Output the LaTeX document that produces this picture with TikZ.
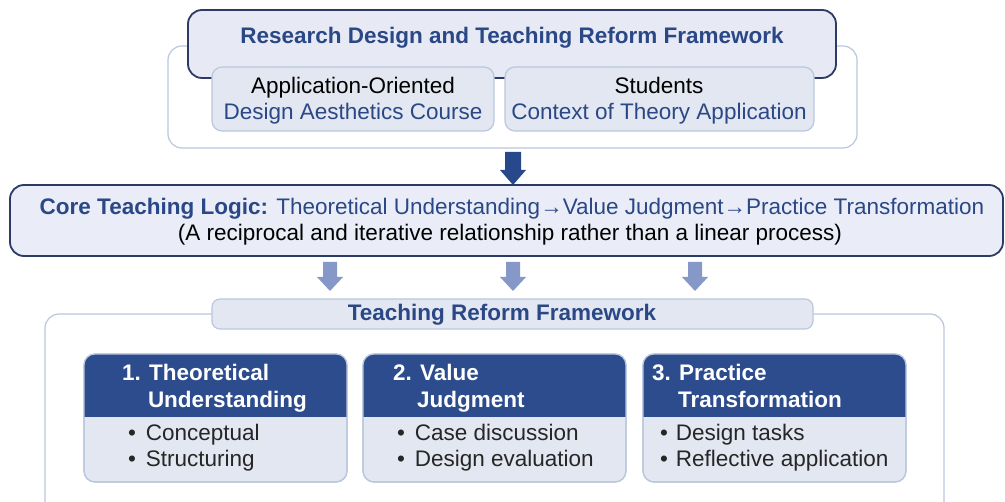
\documentclass[tikz,border=0pt]{standalone}
\usepackage{fontspec}
\setmainfont{Liberation Sans}
\usetikzlibrary{calc}
\definecolor{navy}{RGB}{42,72,134}
\definecolor{darkline}{RGB}{44,58,102}
\definecolor{hdrfill}{RGB}{44,76,142}
\definecolor{lightline}{RGB}{186,199,221}
\definecolor{bodyfill}{RGB}{227,231,241}
\definecolor{titlefill}{RGB}{231,234,245}
\definecolor{corefill}{RGB}{234,237,247}
\definecolor{arrowlight}{RGB}{134,152,199}
\definecolor{arrowdark}{RGB}{40,72,140}
\tikzset{
  every node/.style={inner sep=0pt, outer sep=0pt},
  panel/.style={draw=lightline, line width=1.2pt, fill=white, rounded corners=14pt},
  headbox/.style={draw=darkline, line width=1.8pt, rounded corners=14pt},
  subbox/.style={draw=lightline, line width=1.2pt, fill=bodyfill, rounded corners=10pt},
  card/.style={draw=lightline, line width=1.2pt, fill=bodyfill, rounded corners=11pt},
  big/.style={font=\fontsize{22.5}{26}\selectfont},
  bigb/.style={font=\fontsize{22.5}{26}\selectfont\bfseries},
  hdrtxt/.style={font=\fontsize{22.5}{26}\selectfont\bfseries, text=white, anchor=base west},
  itemtxt/.style={font=\fontsize{22.5}{26}\selectfont, text=black!85, anchor=base west},
}
% vertical block arrow: #1 colour, #2 top coordinate, #3 length, #4 shaft half width, #5 head half width, #6 head length
\newcommand\blockarrowdown[6]{%
  \fill[#1] ($(#2)+(-#4,0)$) -- ($(#2)+(#4,0)$) -- ($(#2)+(#4,#3-#6)$) -- ($(#2)+(#5,#3-#6)$)
    -- ($(#2)+(0,#3)$) -- ($(#2)+(-#5,#3-#6)$) -- ($(#2)+(-#4,#3-#6)$) -- cycle;}
\begin{document}
\begin{tikzpicture}[x=1pt,y=-1pt]
\useasboundingbox (0,0) rectangle (1005,502);
\fill[white] (0,0) rectangle (1005,502);

% ---- top block ----
\draw[panel] (168,46) rectangle (857,148);
\draw[headbox, fill=titlefill] (188,10) rectangle (836,78);
\node[bigb, text=navy, anchor=base] (title) at (512,44) {Research Design and Teaching Reform Framework};
\draw[subbox] (212,67) rectangle (494,131);
\draw[subbox] (505,67) rectangle (814,131);
\node[big, anchor=base] (s1a) at (353,94) {Application-Oriented};
\node[big, text=navy, anchor=base] (s1b) at (353,120) {Design Aesthetics Course};
\node[big, anchor=base] (s2a) at (659,94) {Students};
\node[big, text=navy, anchor=base] (s2b) at (659,120) {Context of Theory Application};

\coordinate (a0) at (513,152);
\blockarrowdown{arrowdark}{a0}{33}{8}{13}{15}

% ---- core logic ----
\draw[headbox, fill=corefill] (10,185) rectangle (1003,256);
\node[big, text=navy, anchor=base] (core) at (512,215) {\textbf{Core Teaching Logic:} Theoretical Understanding→Value Judgment→Practice Transformation};
\node[big, anchor=base] (note) at (510,241) {(A reciprocal and iterative relationship rather than a linear process)};

\coordinate (a1) at (330,262);
\coordinate (a2) at (513,262);
\coordinate (a3) at (695,262);
\blockarrowdown{arrowlight}{a1}{29}{7}{13}{14}
\blockarrowdown{arrowlight}{a2}{29}{7}{13}{14}
\blockarrowdown{arrowlight}{a3}{29}{7}{13}{14}

% ---- reform framework ----
\draw[panel] (45,314) rectangle (944,530);
\draw[subbox, rounded corners=8pt] (212,299) rectangle (813,329);
\node[bigb, text=navy, anchor=base] (frame) at (502,321) {Teaching Reform Framework};

% cards with dark header band
\foreach \xa/\xb in {84/347, 363/626, 643/906}{
  \draw[card] (\xa,354) rectangle (\xb,482);
  \begin{scope}
    \clip[rounded corners=11pt] (\xa,354) rectangle (\xb,482);
    \fill[hdrfill] (\xa,354) rectangle (\xb,417);
  \end{scope}
  \draw[card, fill=none] (\xa,354) rectangle (\xb,482);
}

\node[hdrtxt] (h1a) at (122,381) {1. Theoretical};
\node[hdrtxt] (h1b) at (148,408) {Understanding};
\node[itemtxt] (i1a) at (128,441) {•\hspace{10pt}Conceptual};
\node[itemtxt] (i1b) at (128,467) {•\hspace{10pt}Structuring};

\node[hdrtxt] (h2a) at (393,381) {2. Value};
\node[hdrtxt] (h2b) at (417,408) {Judgment};
\node[itemtxt] (i2a) at (397,441) {•\hspace{10pt}Case discussion};
\node[itemtxt] (i2b) at (397,467) {•\hspace{10pt}Design evaluation};

\node[hdrtxt] (h3a) at (652,381) {3. Practice};
\node[hdrtxt] (h3b) at (678,408) {Transformation};
\node[itemtxt] (i3a) at (660,441) {•\hspace{8pt}Design tasks};
\node[itemtxt] (i3b) at (660,467) {•\hspace{8pt}Reflective application};
\end{tikzpicture}
\end{document}
